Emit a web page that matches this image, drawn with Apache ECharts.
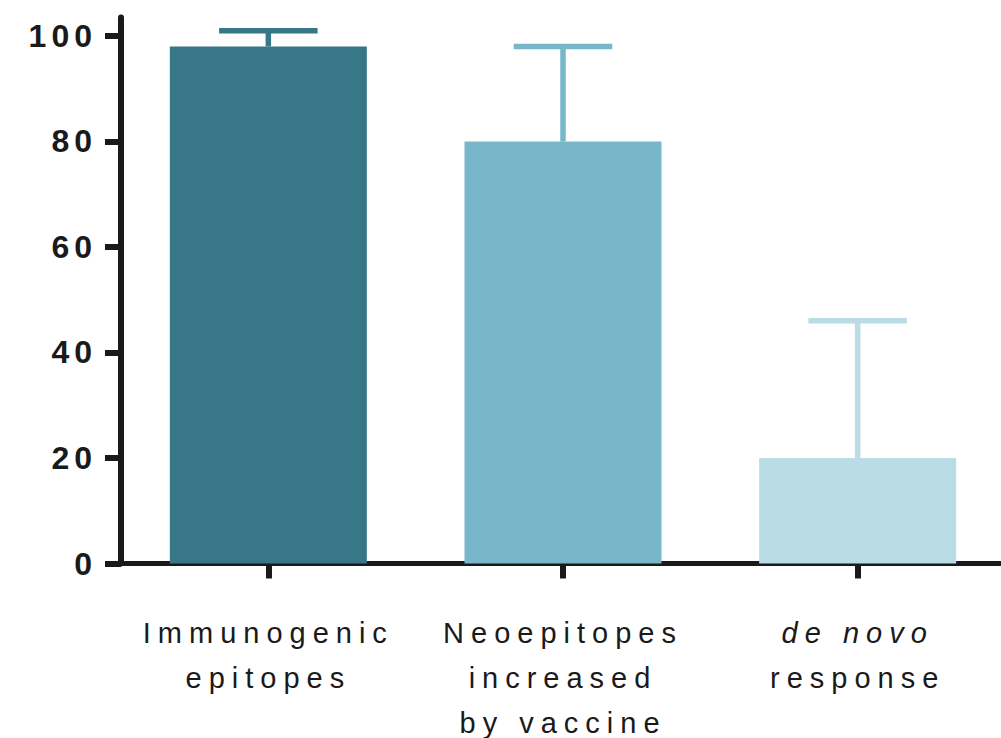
<!DOCTYPE html>
<html>
<head>
<meta charset="utf-8">
<script src="https://cdn.jsdelivr.net/npm/echarts@6/dist/echarts.min.js"></script>
<style>
  html, body { margin: 0; padding: 0; background: #ffffff; overflow: hidden; }
  #chart { width: 1005px; height: 738px; }
  #chart text { letter-spacing: 7px; }
  #chart text[style*="bold"], #chart text[font-weight="bold"] { letter-spacing: 5px; }
</style>
</head>
<body>
<div id="chart"></div>
<script>
// Categories and measured values (percent)
const categories = ['Immunogenic\nepitopes', 'Neoepitopes\nincreased\nby vaccine', 'de novo\nresponse'];
const means = [98, 80, 20];
const upperErrors = [101, 98, 46];
const yTicks = [0, 20, 40, 60, 80, 100];

const barColors = ['#377788', '#78b7c9', '#badce5'];
const axisColor = '#1a1a1a';
const fontFamily = '"Liberation Sans", Arial, Helvetica, sans-serif';
const barWidth = 197;
const capWidth = barWidth / 2;

const chart = echarts.init(document.getElementById('chart'), null, { renderer: 'svg' });

chart.setOption({
  animation: false,
  backgroundColor: '#ffffff',
  grid: { left: 121, right: 0, top: 17.5, bottom: 174.5, containLabel: false },
  xAxis: {
    type: 'category',
    data: categories,
    axisLine: { show: true, lineStyle: { color: axisColor, width: 5 } },
    axisTick: { show: true, alignWithLabel: true, interval: 0, length: 15, lineStyle: { color: axisColor, width: 6 } },
    axisLabel: {
      margin: 47,
      interval: 0,
      formatter: function (value) {
        return value.split('\n').map(function (line) {
          return line === 'de novo' ? '{it|' + line + '}' : '{n|' + line + '}';
        }).join('\n');
      },
      rich: {
        n: { fontFamily: fontFamily, fontSize: 29, color: '#1a1a1a', lineHeight: 45, align: 'center' },
        it: { fontFamily: fontFamily, fontSize: 29, fontStyle: 'italic', color: '#1a1a1a', lineHeight: 45, align: 'center' }
      }
    }
  },
  yAxis: {
    type: 'value',
    min: 0,
    max: 103.5,
    interval: 20,
    splitLine: { show: false },
    axisLine: { show: true, lineStyle: { color: axisColor, width: 6 } },
    axisTick: { show: true, length: 16, customValues: yTicks, lineStyle: { color: axisColor, width: 6 } },
    axisLabel: {
      margin: 24,
      customValues: yTicks,
      fontFamily: fontFamily,
      fontSize: 32,
      fontWeight: 'bold',
      color: '#1a1a1a'
    }
  },
  series: [
    {
      type: 'bar',
      barWidth: barWidth,
      data: means.map(function (v, i) {
        return { value: v, itemStyle: { color: barColors[i] } };
      }),
      z: 2
    },
    {
      type: 'custom',
      z: 3,
      data: means.map(function (v, i) { return [i, v, upperErrors[i]]; }),
      renderItem: function (params, api) {
        const idx = api.value(0);
        const base = api.coord([idx, api.value(1)]);
        const top = api.coord([idx, api.value(2)]);
        const color = barColors[params.dataIndex];
        const x = base[0];
        return {
          type: 'group',
          children: [
            { type: 'line', shape: { x1: x, y1: base[1], x2: x, y2: top[1] },
              style: { stroke: color, lineWidth: 5.5 } },
            { type: 'line', shape: { x1: x - capWidth / 2, y1: top[1], x2: x + capWidth / 2, y2: top[1] },
              style: { stroke: color, lineWidth: 5.5 } }
          ]
        };
      }
    }
  ]
});
</script>
</body>
</html>
